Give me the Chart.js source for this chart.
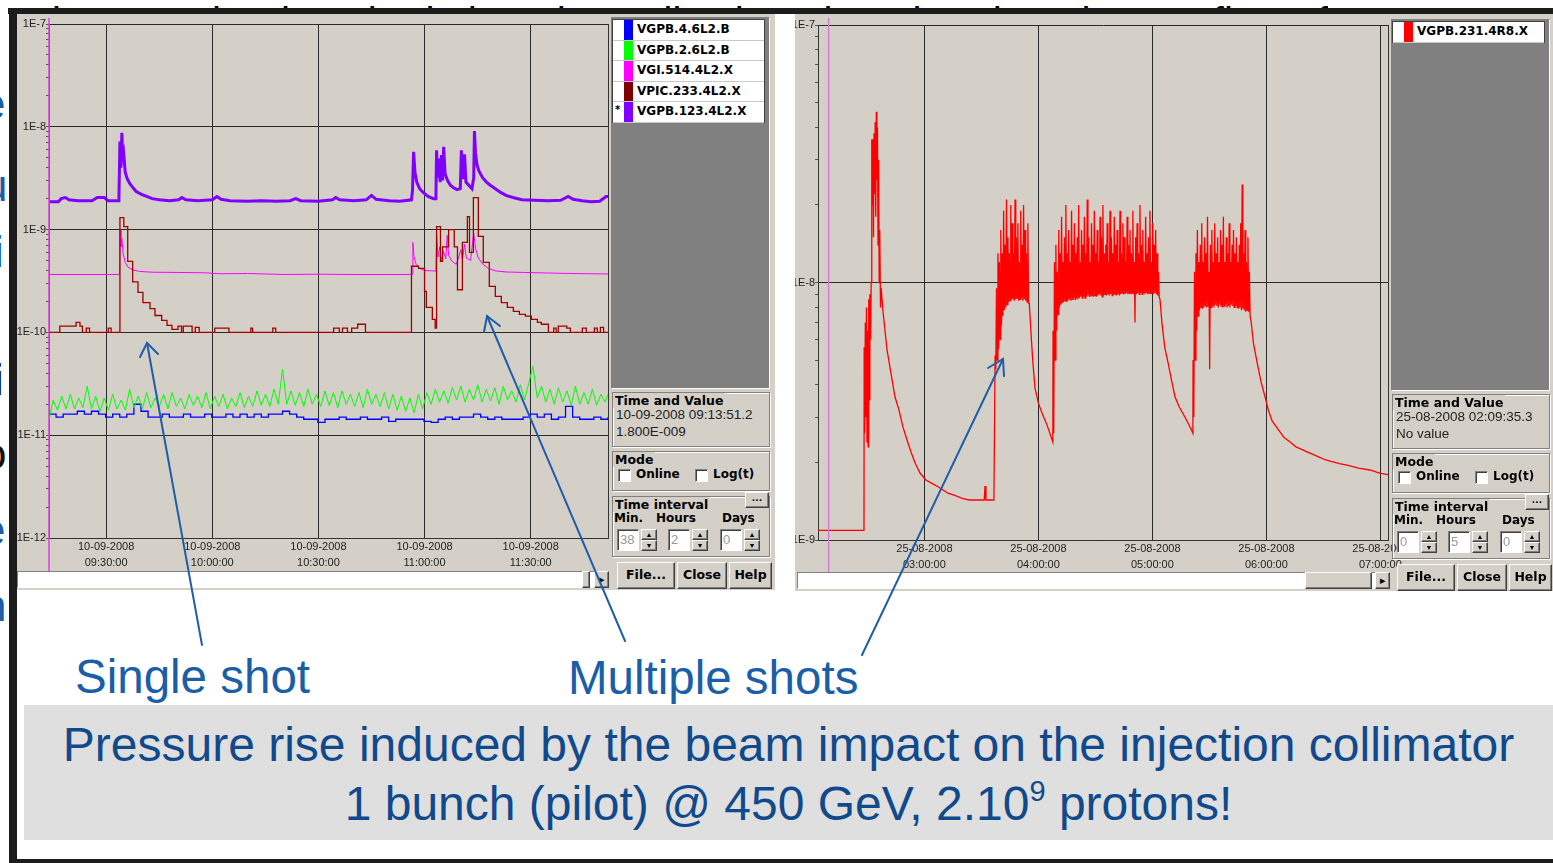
<!DOCTYPE html>
<html>
<head>
<meta charset="utf-8">
<script src="https://cdn.jsdelivr.net/npm/chart.js@4.4.1/dist/chart.umd.min.js"></script>
<style>
body{margin:0;width:1553px;height:863px;overflow:hidden;background:#fff;position:relative;font-family:"Liberation Sans",Arial,sans-serif}
.a{position:absolute;box-sizing:border-box}
.win{background:#d4d0c8;overflow:hidden}
.raised{background:#d4d0c8;border:1px solid;border-color:#fff #404040 #404040 #fff;box-shadow:inset -1px -1px 0 #808080}
.sunken{background:#fff;border:1px solid;border-color:#808080 #fff #fff #808080;box-shadow:inset 1px 1px 0 #404040}
.dark{background:#808080;border:1px solid;border-color:#808080 #fff #fff #808080}
.grp{border:1px solid #808080;box-shadow:1px 1px 0 #fff,inset 1px 1px 0 #fff}
.ttl{position:absolute;top:-9px;left:4px;background:#d4d0c8;padding:0 2px;font:bold 12.5px "DejaVu Sans";color:#000;white-space:nowrap}
.b{font:bold 12px "DejaVu Sans";color:#000;white-space:nowrap}
.val{font:13.5px "Liberation Sans";color:#222;white-space:nowrap}
.legend{background:#fff;border:1px solid #404040}
.row{border-bottom:1px solid #c8c8c8}
.btn{font:bold 12.5px "DejaVu Sans";text-align:center;color:#000}
.frag{position:absolute;font-size:44px;line-height:1;white-space:nowrap}
</style>
</head>
<body>
<div class="frag" style="left:52px;top:2px;height:6px;overflow:hidden;color:#000;font-size:40px;z-index:0">ions can be desorbed, then the walls, then the other then the gas flow of</div>
<div class="frag" style="left:-19px;top:82px;color:#1a5ea8">e</div>
<div class="frag" style="left:-17px;top:164px;color:#1a5ea8">u</div>
<div class="frag" style="left:-6px;top:230px;color:#1a5ea8">i</div>
<div class="frag" style="left:-6px;top:358px;color:#111">i</div>
<div class="frag" style="left:-18px;top:432px;color:#111">o</div>
<div class="frag" style="left:-19px;top:508px;color:#1a5ea8">e</div>
<div class="frag" style="left:-18px;top:584px;color:#1a5ea8">n</div>

<div class="a" style="left:8px;top:8px;width:1545px;height:6px;background:#1c1c1c;z-index:1"></div>
<div class="a" style="left:9px;top:8px;width:8px;height:855px;background:#1c1c1c;z-index:1"></div>
<div class="a" style="left:9px;top:859px;width:1544px;height:4px;background:#1c1c1c;z-index:1"></div>

<div id="winL" class="a win" style="left:17px;top:14px;width:758px;height:576px;z-index:2">
  <canvas id="chartL" class="a" width="593" height="558" style="left:0;top:0"></canvas>
</div>
<div id="winR" class="a win" style="left:795px;top:14px;width:758px;height:577px;z-index:2">
  <canvas id="chartR" class="a" width="625" height="559" style="left:0;top:0"></canvas>
</div>

<div class="a" style="left:24px;top:705px;width:1529px;height:135px;background:#dfdfdf;z-index:2"></div>
<div class="a" style="left:24px;top:721px;width:1529px;text-align:center;font-size:48px;line-height:1;color:#104a8c;z-index:3;white-space:nowrap">Pressure rise induced by the beam impact on the injection collimator</div>
<div class="a" style="left:24px;top:777px;width:1529px;text-align:center;font-size:48px;line-height:1;color:#104a8c;z-index:3;white-space:nowrap">1 bunch (pilot) @ 450 GeV, 2.10<span style="font-size:29px;vertical-align:19px">9</span> protons!</div>
<div class="a" style="left:75px;top:653px;font-size:47.5px;line-height:1;color:#1a5ea8;z-index:3;white-space:nowrap">Single shot</div>
<div class="a" style="left:568px;top:654px;font-size:47.5px;line-height:1;color:#1a5ea8;z-index:3;white-space:nowrap">Multiple shots</div>

<svg class="a" width="1553" height="863" style="left:0;top:0;z-index:4" viewBox="0 0 1553 863">
  <g stroke="#1f5da8" stroke-width="2" fill="none" stroke-linecap="round">
    <line x1="202" y1="645" x2="147" y2="343"/>
    <polyline points="140,357 147,343 158,354"/>
    <line x1="625" y1="641" x2="487" y2="316"/>
    <polyline points="484,332 487,316 500,326"/>
    <line x1="862" y1="655" x2="1003" y2="359"/>
    <polyline points="988,368 1003,359 1004,376"/>
  </g>
</svg>

<script>
// ---------- left window: 10-09-2008, x = minutes after 09:00 ----------
const leftNames = ['VGPB.4.6L2.B', 'VGPB.2.6L2.B', 'VGI.514.4L2.X', 'VPIC.233.4L2.X', 'VGPB.123.4L2.X'];
const leftColors = ['#0000ff', '#00ff00', '#ff00ff', '#800000', '#8000ff'];
const leftRange = [13.85, 171.85];
const leftTicks = [30, 60, 90, 120, 150];
const leftDate = '10-09-2008';
const leftTimes = ['09:30:00', '10:00:00', '10:30:00', '11:00:00', '11:30:00'];
const leftDecades = [1e-12, 1e-11, 1e-10, 1e-9, 1e-8, 1e-7];

// VGPB.123.4L2.X  [min, value x1e-9]
const purple = [[13.85,1.87],[16.5,1.87],[17.3,2.0],[18.5,2.05],[19.5,1.95],[22,1.91],[26,1.91],[27.5,2.05],[29.5,2.05],[30.5,1.91],[33.6,1.91],
  [33.9,7.2],[34.2,4.0],[34.45,8.75],[34.7,4.6],[35.0,5.3],[35.4,3.6],[36,3.1],[36.7,2.8],[37.6,2.55],[38.5,2.35],[40,2.2],[41.5,2.1],[43,2.0],[45,1.95],[48,1.91],[50.5,1.95],[51.4,2.05],[52.5,1.95],[56,1.91],[60,1.95],[61.3,2.1],[62.5,1.97],[65,1.91],[70,1.89],[74,1.91],[78,1.89],[82,1.91],[83.6,2.0],[85,1.91],[90,1.89],[94,1.95],[94.9,2.05],[96,1.95],[100,1.91],[103.5,1.95],[105,2.15],[106.3,1.97],[110,1.91],[113,1.89],[116.3,1.95],
  [116.6,2.4],[116.9,5.7],[117.3,3.6],[117.8,2.9],[118.6,2.5],[119.6,2.3],[121,2.1],[122.5,2.0],[123.2,2.0],
  [123.4,5.9],[123.7,3.2],[124.1,4.9],[124.4,2.9],[124.8,5.3],[125.1,3.0],[125.4,6.4],[125.8,3.5],[126.5,3.0],[127.3,2.7],[128.2,2.55],[129.2,2.45],[130.1,2.5],[130.4,5.9],[130.8,3.1],[131.3,5.4],[131.7,2.9],[132.5,2.7],[133.4,2.5],[133.9,3.2],[134.1,9.1],[134.4,5.6],[134.8,4.3],[135.4,3.7],[136.4,3.2],[137.5,2.9],[138.6,2.7],[140,2.5],[141.5,2.3],[143,2.15],[145,2.05],[147.5,1.95],[151,1.93],[155,1.91],[158.5,1.93],[160.6,2.1],[162,1.97],[164.5,1.91],[167,1.87],[169.5,1.89],[171.3,2.1],[171.85,2.1]];

// VGI.514.4L2.X  [min, value x1e-10]
const magenta = [[13.85,3.66],[33.8,3.66],[33.95,10.0],[34.2,6.8],[34.45,8.2],[34.8,5.8],[35.4,4.8],[36.2,4.3],[37.5,4.05],[39.5,3.92],[43,3.85],[50,3.83],[58,3.8],[62,3.72],[70,3.74],[80,3.66],[90,3.68],[100,3.66],[110,3.66],[116.5,3.66],
  [116.7,7.5],[117.0,5.5],[117.6,4.6],[118.6,4.2],[120,4.0],[123.2,3.95],
  [123.4,9.0],[123.8,5.4],[124.3,6.8],[124.8,5.0],[125.3,6.2],[126.0,5.2],[126.4,8.8],[126.8,5.6],[127.8,4.9],[129,4.6],[130.3,6.4],[130.7,5.1],[131.3,7.2],[131.8,5.3],[133.0,5.0],[133.9,9.2],[134.4,6.6],[135.2,5.3],[136.5,4.6],[138,4.2],[140,3.97],[143,3.87],[148,3.83],[155,3.78],[162,3.74],[171.85,3.7]];

// VPIC.233.4L2.X  stepped, [min, value x1e-10]
const brown = [[13.85,1.0],[16.9,1.15],[19.8,1.15],[21.5,1.25],[22.6,1.15],[23.3,1.0],[24.4,1.1],[25.3,1.0],[30.6,1.1],[31.4,1.0],
  [33.9,13.1],[35.0,10.7],[36.1,4.9],[37.5,3.1],[39.0,2.45],[40.4,1.95],[42.4,1.7],[43.8,1.46],[45.7,1.31],[47.2,1.17],[48.6,1.07],[50.3,1.15],[51.3,1.0],[51.8,1.15],[54.3,1.0],[55.2,1.12],[56.3,1.0],
  [60.7,1.1],[64.7,1.0],[70.9,1.1],[71.4,1.0],[77.1,1.1],[77.9,1.0],[94.3,1.1],[95.9,1.0],[96.8,1.1],[98.2,1.0],[99.4,1.1],[101.1,1.2],[103.3,1.0],
  [116.3,4.4],[118.3,4.2],[120.0,2.5],[120.5,1.75],[122.2,1.34],[123.0,1.1],[123.4,10.7],[124.5,4.9],[125.1,6.8],[126.2,6.8],[126.8,10.0],[128.4,6.8],[129.3,2.6],[130.7,7.5],[132.1,13.4],[132.7,6.0],[133.8,20.5],[135.2,8.6],[136.6,4.8],[138.3,2.8],[140.0,2.24],[141.7,1.95],[143.4,1.75],[145.1,1.6],[146.8,1.5],[148.5,1.44],[150.2,1.34],[151.9,1.25],[153.0,1.2],[155.0,1.0],[156.5,1.1],[157.2,1.0],[157.8,1.15],[160.2,1.1],[161.2,1.0],[164.6,1.1],[165.7,1.0],[168,1.1],[168.8,1.0],[169.7,1.12],[170.6,1.0],[171.85,1.0]];

// VGPB.2.6L2.B  one reading every 1.2 min from 09:13:51, value x1e-11
const greenStart = 13.85, greenStep = 1.2;
const green = [1.4,2.2,1.75,2.4,1.8,2.5,1.8,2.3,1.85,3.0,1.8,2.4,1.7,2.3,1.75,2.5,1.8,2.2,1.75,2.8,
  1.85,2.4,1.8,2.6,1.85,2.3,1.9,2.5,1.8,2.6,1.9,2.3,1.8,2.5,1.95,2.4,1.85,2.6,1.8,2.4,
  1.9,2.5,1.8,2.3,1.9,2.6,1.85,2.4,1.9,2.7,1.95,2.5,1.9,2.8,2.0,4.37,2.0,2.7,1.95,2.6,
  1.9,2.8,2.0,2.5,1.9,2.7,1.95,2.6,1.85,2.7,2.0,2.5,1.9,2.6,1.85,2.8,2.0,2.5,1.9,2.6,
  1.8,2.5,1.75,2.4,1.7,2.3,1.65,2.5,1.8,2.6,2.0,2.8,2.1,2.7,2.05,2.9,2.2,3.0,2.1,2.8,
  2.2,3.1,2.1,2.8,2.15,2.9,2.0,3.0,2.2,2.7,2.1,3.1,2.2,3.2,4.68,2.3,3.0,2.1,2.8,2.0,
  2.9,2.1,2.7,1.95,3.0,2.0,2.6,2.0,2.8,1.95,2.5,2.1,2.7];

// VGPB.4.6L2.B  stepped, one reading every 2 min from 09:13:51, value x1e-11
const blueStart = 13.85, blueStep = 2;
const blue = [1.6,1.5,1.6,1.6,1.71,1.6,1.71,1.6,1.5,1.6,1.5,1.6,2.0,1.71,1.5,1.5,1.6,1.5,1.5,1.6,
  1.5,1.5,1.6,1.5,1.5,1.6,1.5,1.6,1.5,1.6,1.5,1.6,1.6,1.71,1.6,1.5,1.43,1.43,1.33,1.43,
  1.43,1.5,1.43,1.43,1.5,1.43,1.43,1.5,1.36,1.43,1.43,1.43,1.43,1.36,1.33,1.43,1.5,1.43,1.5,1.5,
  1.6,1.5,1.43,1.5,1.43,1.43,1.43,1.5,1.6,1.5,1.6,1.43,1.5,1.91,1.5,1.43,1.43,1.5,1.43,1.5];

// ---------- right window: 25-08-2008, x = minutes after 02:00 ----------
const rightNames = ['VGPB.231.4R8.X'];
const rightColors = ['#ff0000'];
const rightRange = [4, 304];
const rightTicks = [60, 120, 180, 240, 300];
const rightDate = '25-08-2008';
const rightTimes = ['03:00:00', '04:00:00', '05:00:00', '06:00:00', '07:00:00'];
const rightDecades = [1e-9, 1e-8, 1e-7];

// VGPB.231.4R8.X, all values x1e-9
const redFirstShot = [[4,1.09],[28.2,1.09],[28.3,5.6],[28.6,2.6],[28.9,7.0],[29.2,3.0],[29.5,8.0],[29.8,2.4],[30.1,6.5],[30.4,2.3],[30.7,8.6],[31.0,3.5],[31.3,9.0],[31.7,6.0],[32.0,10],[32.3,36],[32.6,20],[32.9,36],[33.2,15],[33.5,38],[33.8,22],[34.1,42],[34.4,18],[34.7,46],[35.0,25],[35.3,40],[35.6,14],[35.9,30],[36.2,10],[36.5,16],[36.9,8.0],[37.3,9.5],
  [38,8.0],[40.3,5.5],[42.5,4.4],[44.5,3.6],[46.6,3.2],[48.7,2.75],[50.8,2.45],[52.9,2.2],[55,2.0],[57.7,1.82],[60.8,1.71],[64,1.66],[67.2,1.61],[70,1.56],[72.4,1.52],[76,1.49],[80,1.45],[83.5,1.43],[91.5,1.43],[91.9,1.62],[92.4,1.43],[96.6,1.43]];
// bursts: one peak reading and one floor reading per step
const burst2Start = 97.2, burst2Step = 0.75;
const burst2Peaks = [5.2,9.5,13,12,16,13,19,14,21,15,13,20,17,13,21,15,17,12,19,14,20,16,13,17];
const burst2Floor = [4.6,5.0,5.5,6.0,6.8,7.4,7.8,8.0,8.2,8.4,8.5,8.6,8.6,8.5,8.6,8.7,8.5,8.6,8.7,8.5,8.6,8.5,8.4,8.3];
const redDecay2 = [[115.2,8.3],[116,6.6],[117,5.0],[118.2,3.9],[120,3.4],[122,3.1],[124.5,2.8],[126,2.6],[127.6,2.4]];
const burst3Start = 127.7, burst3Step = 0.75;
const burst3Peaks = [6.5,12,14,11,16,13,18,12,15,20, 13,16,12,19,14,17,13,15,20,12, 16,14,18,13,21,15,12,17,14,19,
  13,16,12,18,15,20,13,14,17,12, 19,15,13,18,14,16,12,19,13,17, 15,12,18,14,16,13,19,12,15,17, 13,20,14,16,12,18,13,15,19,12, 17,14,16,13,11];
const burst3Floor = [2.6,5.0,6.5,7.5,8.0,8.2,8.3,8.4,8.5,8.4, 8.5,8.6,8.5,8.6,8.7,8.6,8.7,8.6,8.7,8.8, 8.7,8.8,8.7,8.8,8.9,8.8,8.8,8.9,8.8,8.9,
  8.8,8.9,9.0,8.9,8.8,8.9,9.0,8.9,9.0,8.9, 9.0,8.9,9.0,9.0,8.9,9.0,8.9,9.0,9.1,9.0, 9.0,9.1,9.0,9.1,9.0,9.1,9.0,7.0,9.0,9.1, 9.0,9.1,9.0,9.1,9.0,9.1,9.0,9.1,9.0,9.1, 9.0,9.1,9.0,8.9,8.8];
const redDecay3 = [[184,8.6],[185,7.0],[186.5,5.6],[188.2,4.9],[190,4.2],[191.9,3.6],[194,3.3],[196.1,3.1],[198.2,2.9],[200.3,2.7],[201.3,2.6]];
const burst4Start = 201.4, burst4Step = 0.76;
const burst4Peaks = [5,11,13,16,12,14,17,12,15,13, 18,11,14,16,12,17,13,15,12,16, 14,18,12,15,13,17,12,14,16,13, 15,12,14,17,24,13,16,12,15,11];
const burst4Floor = [3.0,5.0,6.5,7.4,7.8,8.0,7.9,8.0,8.1,8.0, 8.1,4.6,8.0,8.1,8.0,8.2,8.1,8.0,8.2,8.1, 8.0,8.1,8.2,8.0,8.1,8.0,8.2,8.1,8.0,8.1, 8.0,7.9,8.0,7.8,7.9,7.8,7.7,7.8,7.7,7.4];
const redDecay4 = [[231.9,7.1],[233.2,5.8],[235.1,4.9],[237.2,4.1],[239.3,3.6],[241,3.2],[243,2.9],[246,2.7],[249.3,2.5],[252.5,2.4],[255.6,2.3],[258.5,2.25],[261.4,2.2],[264.5,2.15],[267.7,2.1],[271,2.05],[274,2.02],[278.5,1.98],[283,1.95],[288.5,1.9],[294.5,1.87],[299.5,1.82],[304.5,1.79]];

// ---------- helpers ----------
const pairs = (arr, unit) => arr.map(p => ({x: p[0], y: p[1] * unit}));
const series = (start, step, vals, unit) => vals.map((v, i) => ({x: start + i * step, y: v * unit}));
function burst(start, step, peaks, floor, unit) {
  const pts = [];
  peaks.forEach((p, i) => {
    pts.push({x: start + i * step, y: p * unit});
    pts.push({x: start + (i + 0.5) * step, y: floor[i] * unit});
  });
  return pts;
}
const isDecade = v => Math.abs(Math.log10(v) - Math.round(Math.log10(v))) < 1e-6;
function logTicks(decades) {
  const out = [];
  decades.forEach((d, i) => {
    out.push({value: d});
    if (i < decades.length - 1) for (let k = 2; k < 10; k++) out.push({value: d * k});
  });
  return out;
}

// pink time cursor + right edge of the plot
const cursorLine = {
  id: 'cursorLine',
  afterDatasetsDraw(chart, args, opts) {
    const c = chart.ctx, a = chart.chartArea;
    c.save();
    c.strokeStyle = '#333'; c.lineWidth = 1;
    c.beginPath(); c.moveTo(a.right + 0.5, a.top); c.lineTo(a.right + 0.5, a.bottom); c.stroke();
    const x = chart.scales.x.getPixelForValue(opts.time);
    c.strokeStyle = opts.color; c.lineWidth = 1.5;
    c.beginPath(); c.moveTo(x, 4); c.lineTo(x, chart.height); c.stroke();
    c.restore();
  }
};

Chart.defaults.font.family = '"Liberation Sans", Arial, sans-serif';
Chart.defaults.font.size = 11;

function makeChart(id, cfg) {
  return new Chart(document.getElementById(id), {
    type: 'line',
    data: {datasets: cfg.datasets},
    options: {
      responsive: false, animation: false, events: [],
      layout: {padding: cfg.padding},
      elements: {point: {radius: 0}, line: {tension: 0}},
      plugins: {legend: {display: false}, tooltip: {enabled: false},
        cursorLine: {time: cfg.cursor, color: cfg.cursorColor}},
      scales: {
        x: {
          type: 'linear', min: cfg.xRange[0], max: cfg.xRange[1],
          afterBuildTicks: s => { s.ticks = cfg.xTicks.map(v => ({value: v})); },
          afterFit: s => { s.height = cfg.xHeight; },
          ticks: {callback: (v, i) => [cfg.date, cfg.times[i]], maxRotation: 0, autoSkip: false,
            padding: 1, color: '#222', font: {size: 11, lineHeight: 1.45}},
          grid: {color: '#2a2a2a', drawTicks: false},
          border: {color: '#333'}
        },
        y: {
          type: 'logarithmic', min: cfg.decades[0], max: cfg.decades[cfg.decades.length - 1],
          afterBuildTicks: s => { s.ticks = logTicks(cfg.decades); },
          afterFit: s => { s.width = cfg.yWidth; },
          ticks: {callback: v => isDecade(v) ? '1E' + Math.round(Math.log10(v)) : '',
            autoSkip: false, padding: 0, color: '#222', font: {size: 11}},
          grid: {color: c => (c.tick && isDecade(c.tick.value)) ? '#2a2a2a' : 'rgba(0,0,0,0)',
            tickColor: '#555', tickLength: 3},
          border: {color: '#333'}
        }
      }
    },
    plugins: [cursorLine]
  });
}

makeChart('chartL', {
  xRange: leftRange, xTicks: leftTicks, date: leftDate, times: leftTimes, decades: leftDecades,
  padding: {top: 10, right: 2, left: 0, bottom: 0}, xHeight: 34, yWidth: 32,
  cursor: leftRange[0], cursorColor: '#e23ee2',
  datasets: [
    {label: leftNames[4], data: pairs(purple, 1e-9), borderColor: leftColors[4], borderWidth: 3, order: 1},
    {label: leftNames[3], data: pairs(brown, 1e-10), borderColor: '#a00000', borderWidth: 1.3, stepped: true, order: 2},
    {label: leftNames[2], data: pairs(magenta, 1e-10), borderColor: leftColors[2], borderWidth: 1, order: 3},
    {label: leftNames[1], data: series(greenStart, greenStep, green, 1e-11), borderColor: leftColors[1], borderWidth: 1, order: 4},
    {label: leftNames[0], data: series(blueStart, blueStep, blue, 1e-11), borderColor: leftColors[0], borderWidth: 1.3, stepped: true, order: 5}
  ]
});

const redPts = [].concat(
  pairs(redFirstShot, 1e-9),
  burst(burst2Start, burst2Step, burst2Peaks, burst2Floor, 1e-9),
  pairs(redDecay2, 1e-9),
  burst(burst3Start, burst3Step, burst3Peaks, burst3Floor, 1e-9),
  pairs(redDecay3, 1e-9),
  burst(burst4Start, burst4Step, burst4Peaks, burst4Floor, 1e-9),
  pairs(redDecay4, 1e-9)
);
makeChart('chartR', {
  xRange: rightRange, xTicks: rightTicks, date: rightDate, times: rightTimes, decades: rightDecades,
  padding: {top: 11, right: 32, left: 0, bottom: 0}, xHeight: 33, yWidth: 23,
  cursor: 9.59, cursorColor: '#d77ad7',
  datasets: [{label: rightNames[0], data: redPts, borderColor: rightColors[0], borderWidth: 1.3}]
});

// ---------- window controls ----------
function box(parent, cls, x, y, w, h, text) {
  const d = document.createElement('div');
  d.className = 'a ' + cls;
  Object.assign(d.style, {left: x + 'px', top: y + 'px', width: w + 'px', height: h + 'px'});
  if (text != null) d.textContent = text;
  parent.appendChild(d);
  return d;
}
function spinner(p, x, y) {
  const u = box(p, 'raised', x, y, 16, 11); u.style.cssText += 'font-size:7px;line-height:9px;text-align:center'; u.textContent = '▲';
  const d = box(p, 'raised', x, y + 11, 16, 11); d.style.cssText += 'font-size:7px;line-height:9px;text-align:center'; d.textContent = '▼';
}
function buildPanel(win, ox, oy, cfg) {
  box(win, 'dark', ox + 1, oy + 3, 159, 372);
  const rowH = cfg.names.length > 1 ? 20.6 : 21;
  const lg = box(win, 'legend', ox + 2, oy + 5, 153, rowH * cfg.names.length + 1);
  cfg.names.forEach((n, i) => {
    const r = box(lg, 'row', 0, i * rowH, 151, rowH);
    if (cfg.star === i) { const s = box(r, 'b', 2, 2, 8, 12, '*'); s.style.fontSize = '10px'; }
    box(r, '', 11, 0, 9, rowH - 1).style.background = cfg.colors[i];
    box(r, 'b', 24, 2, 125, 16, n);
  });
  // time and value
  let g = box(win, 'grp', ox + 2, oy + 378, 158, 55);
  box(g, 'ttl', 0, 0, null, null, 'Time and Value').style.width = 'auto';
  box(g, 'val', 3, 14, 150, 16, cfg.time);
  box(g, 'val', 3, 31, 150, 16, cfg.value);
  // mode
  g = box(win, 'grp', ox + 2, oy + 437, 158, 40);
  box(g, 'ttl', 0, 0, null, null, 'Mode').style.width = 'auto';
  box(g, 'sunken', 5, 17, 13, 13);
  box(g, 'b', 23, 15, 60, 16, 'Online');
  box(g, 'sunken', 82, 17, 13, 13);
  box(g, 'b', 100, 15, 55, 16, 'Log(t)');
  // time interval
  g = box(win, 'grp', ox + 2, oy + 482, 158, 61);
  box(g, 'ttl', 0, 0, null, null, 'Time interval').style.width = 'auto';
  box(g, 'raised btn', 132, -5, 24, 16, '...').style.fontSize = '9px';
  box(g, 'b', 1, 14, 40, 16, 'Min.');
  box(g, 'b', 43, 14, 50, 16, 'Hours');
  box(g, 'b', 109, 14, 45, 16, 'Days');
  [[4, cfg.min], [55, cfg.hours], [107, cfg.days]].forEach(([x, v]) => {
    const inp = box(g, 'sunken val', x, 32, 22, 22, v);
    inp.style.cssText += 'color:#999;font-size:13px;padding:2px 0 0 2px';
    spinner(g, x + 24, 32);
  });
  // buttons
  [['File...', 7, 58], ['Close', 67, 50], ['Help', 119, 43]].forEach(([t, x, w]) => {
    const b = box(win, 'raised btn', ox + x, oy + 548, w, 27, t);
    b.style.lineHeight = '24px';
  });
}
function scrollbar(win, x, y, w, thumbX, thumbW) {
  const tr = box(win, 'sunken', x, y, w, 17);
  tr.style.boxShadow = 'none';
  box(win, 'raised', thumbX, y, thumbW, 17);
  const ar = box(win, 'raised', x + w - 15, y, 15, 17, '▸');
  ar.style.cssText += 'font-size:11px;line-height:14px;text-align:center';
}

const winL = document.getElementById('winL');
const winR = document.getElementById('winR');
scrollbar(winL, 0, 557, 592, 565, 8);
scrollbar(winR, 2, 558, 593, 510, 67);
buildPanel(winL, 593, 0, {names: leftNames, colors: leftColors, star: 4,
  time: '10-09-2008 09:13:51.2', value: '1.800E-009', min: '38', hours: '2', days: '0'});
buildPanel(winR, 595, 2, {names: rightNames, colors: rightColors, star: -1,
  time: '25-08-2008 02:09:35.3', value: 'No value', min: '0', hours: '5', days: '0'});
</script>
</body>
</html>
